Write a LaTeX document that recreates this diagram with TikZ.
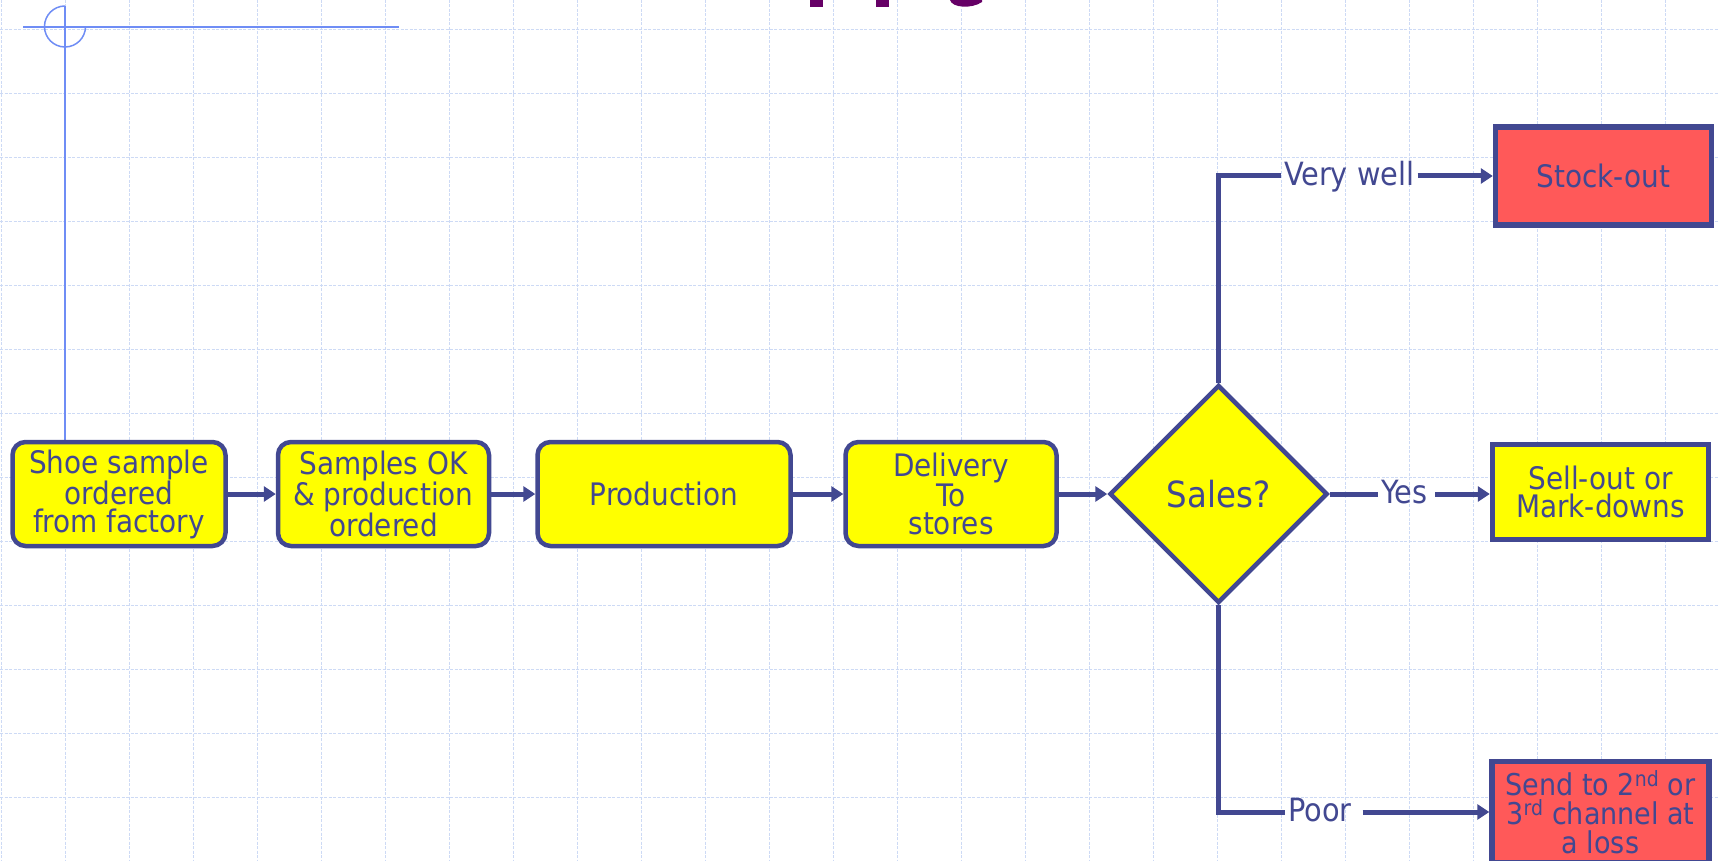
\documentclass[tikz,border=0pt]{standalone}
\usepackage{fontspec}
\setmainfont{DejaVu Sans Condensed}
\usetikzlibrary{arrows.meta,shapes.geometric}

\definecolor{ink}{RGB}{66,72,145}
\definecolor{boxyellow}{RGB}{255,255,0}
\definecolor{boxred}{RGB}{255,89,89}
\definecolor{gridblue}{RGB}{205,218,245}
\definecolor{guideblue}{RGB}{111,141,245}
\definecolor{titlepurple}{RGB}{102,0,102}

\begin{document}
	\begin{tikzpicture}[x=1pt, y=-1pt]
		\tikzset{
			proc/.style={draw=ink, line width=4.5pt, fill=boxyellow, rounded corners=13pt, text=ink, align=center, inner sep=0pt, minimum height=104pt, font=\fontsize{31}{28}\selectfont},
			dec/.style={diamond, draw=ink, line width=4.5pt, fill=boxyellow, text=ink, inner sep=0pt, minimum width=218pt, minimum height=218pt, font=\fontsize{36}{40}\selectfont},
			res/.style={draw=ink, line width=5.5pt, text=ink, align=center, inner sep=0pt, font=\fontsize{31}{28.5}\selectfont},
			lbl/.style={text=ink, inner sep=3pt, text height=24pt, text depth=5pt, font=\fontsize{32}{36}\selectfont},
			flow/.style={draw=ink, line width=5pt, -{Triangle[length=12pt,width=15pt]}},
			plain/.style={draw=ink, line width=5pt},
			gridline/.style={draw=gridblue, line width=0.9pt, dash pattern=on 3pt off 1.5pt},
			guide/.style={draw=guideblue, line width=1.5pt}
		}

		\useasboundingbox (0,0) rectangle (1719,861);
		\clip (0,0) rectangle (1719,861);
		\fill[white] (0,0) rectangle (1719,861);

		% slide background
		\foreach \gx in {1.3,65.3,...,1700}
			\draw[gridline] (\gx,0) -- (\gx,861);
		\foreach \gy in {29.3,93.3,...,861}
			\draw[gridline] (0,\gy) -- (1719,\gy);

		\fill[titlepurple] (810,0) rectangle (823,7);
		\fill[titlepurple] (876,0) rectangle (889,7);
		\fill[titlepurple] (950,0) .. controls (952,8) and (972,9) .. (982,2) -- (982,0) -- cycle;

		\draw[guide] (23,27) -- (399,27);
		\draw[guide] (65,6) arc[start angle=270, end angle=0, radius=20.5];
		\draw[guide] (65,6) -- (65,442);

		\node[proc, minimum width=213pt] (shoe) at (119,494) {Shoe sample\\ordered\\from factory};
		\node[proc, minimum width=211pt] (samples) at (383.5,494) {Samples OK\\\& production\\ordered};
		\node[proc, minimum width=253pt] (production) at (664,494) {Production};
		\node[proc, minimum width=211pt] (delivery) at (951,494) {Delivery\\To\\stores};
		\node[dec] (sales) at (1218.5,494) {Sales?};

		\node[res, fill=boxred, minimum width=216pt, minimum height=98pt] (stockout) at (1603.5,176) {Stock-out};
		\node[res, fill=boxyellow, minimum width=216pt, minimum height=95pt] (sellout) at (1600.5,492) {Sell-out or\\Mark-downs};
		\node[res, fill=boxred, minimum width=217pt, minimum height=101pt, font=\fontsize{30}{29}\selectfont] (channel) at (1600.5,812) {Send to 2\textsuperscript{nd} or\\3\textsuperscript{rd} channel at\\a loss};

		\node[lbl, anchor=west] (verywell) at (1281,176) {Very well};
		\node[lbl, anchor=west] (yes) at (1378,494) {Yes};
		\node[lbl, anchor=west] (poor) at (1285,812) {Poor};

		\draw[flow] (shoe) to (samples);
		\draw[flow] (samples) to (production);
		\draw[flow] (production) to (delivery);
		\draw[flow] (delivery) to (sales);

		\draw[plain] (sales.north) |- (verywell.west);
		\draw[flow] (verywell.east) to (stockout.west);

		\draw[plain] (sales.east) to (yes.west);
		\draw[flow, shorten <=5pt] (yes.east) to (yes.east -| sellout.west);

		\draw[plain] (sales.south) |- (poor.west);
		\draw[flow, shorten <=8pt] (poor.east) to (channel.west);

	\end{tikzpicture}
\end{document}
